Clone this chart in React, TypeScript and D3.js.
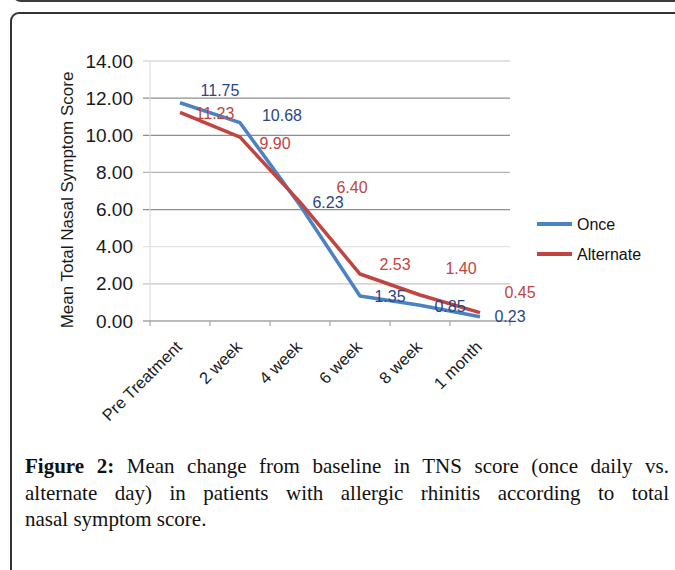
import * as d3 from 'd3';
import React, { useEffect, useRef } from 'react';

const categories = ['Pre Treatment', '2 week', '4 week', '6 week', '8 week', '1 month'];
const onceValues = [11.75, 10.68, 6.23, 1.35, 0.85, 0.23];
const alternateValues = [11.23, 9.9, 6.4, 2.53, 1.4, 0.45];
const yTicks = [0, 2, 4, 6, 8, 10, 12, 14];
const seriesNames = ['Once', 'Alternate'];

// label nudges (px) from each point, as placed in the original
const onceLabelShift = [[40, -12], [42, -7], [28, -3], [30, 1], [30, 1], [30, 0]];
const alternateLabelShift = [[35, 1], [35, 6], [52, -15], [35, -10], [41, -27], [40, -20]];

const captionLines = [
  'Mean change from baseline in TNS score (once daily vs.',
  'alternate day) in patients with allergic rhinitis according to total',
  'nasal symptom score.',
];

const gridTone: Record<number, string> = {
  14: '#dadada', 12: '#8e8e8e', 10: '#8e8e8e', 8: '#b4b4b4',
  6: '#8e8e8e', 4: '#e2e2e2', 2: '#c6c6c6',
};

const W = 675;
const H = 570;
const sans = '"Liberation Sans", Arial, sans-serif';
const serif = '"Liberation Serif", "Times New Roman", serif';

const App: React.FC = () => {
  const capRef = useRef<SVGGElement>(null);

  const x = d3.scaleBand<string>().domain(categories).range([150, 510]);
  const y = d3.scaleLinear().domain([0, 14]).range([321, 61]);
  const cx = (c: string) => (x(c) ?? 0) + x.bandwidth() / 2;

  const line = d3
    .line<number>()
    .x((_, i) => cx(categories[i]))
    .y((d) => y(d));

  const series = [
    { name: seriesNames[0], values: onceValues, shift: onceLabelShift, stroke: '#4a82c4', label: '#2b4584' },
    { name: seriesNames[1], values: alternateValues, shift: alternateLabelShift, stroke: '#c0443f', label: '#c0443f' },
  ];

  // justify the first two caption lines like the journal layout
  useEffect(() => {
    if (!capRef.current) return;
    d3.select(capRef.current)
      .selectAll<SVGTextElement, unknown>('text.justify')
      .each(function () {
        const el = this;
        el.setAttribute('word-spacing', '0');
        const natural = el.getComputedTextLength();
        const spaces = (el.textContent || '').split(' ').length - 1;
        if (spaces > 0) {
          el.setAttribute('word-spacing', String((644 - natural) / spaces));
        }
      });
  }, []);

  const bounds = d3.range(categories.length + 1).map((i) => 150 + i * x.bandwidth());

  return (
    <svg
      width={W}
      height={H}
      style={{ position: 'absolute', left: 0, top: 0, background: 'white' }}
    >
      {/* frames */}
      <rect x={13} y={-40} width={720} height={41} rx={8} fill="none" stroke="#3a3a3a" strokeWidth={2} />
      <rect x={11} y={13} width={720} height={700} rx={8} fill="none" stroke="#333" strokeWidth={2} />

      {/* grid */}
      {yTicks.map((t) => (
        <g key={t}>
          {t > 0 && (
            <line x1={143} x2={510} y1={y(t)} y2={y(t)} stroke={gridTone[t]} strokeWidth={1.3} />
          )}
          <text
            x={133}
            y={y(t)}
            textAnchor="end"
            dominantBaseline="central"
            fontFamily={sans}
            fontSize={19}
            fill="#1a1a1a"
          >
            {t.toFixed(2)}
          </text>
        </g>
      ))}
      <line x1={150} x2={150} y1={61} y2={321} stroke="#dcdcdc" strokeWidth={1.2} />
      <line x1={143} x2={510} y1={y(0)} y2={y(0)} stroke="#a4a4a4" strokeWidth={1.3} />
      {bounds.map((b) => (
        <line key={b} x1={b} x2={b} y1={321} y2={326} stroke="#a4a4a4" strokeWidth={1.2} />
      ))}

      {/* x labels */}
      {categories.map((c) => (
        <text
          key={c}
          transform={`translate(${cx(c) + 3},348) rotate(-45)`}
          textAnchor="end"
          fontFamily={sans}
          fontSize={16.5}
          fill="#1a1a1a"
        >
          {c}
        </text>
      ))}

      <text
        transform="translate(73,200) rotate(-90)"
        textAnchor="middle"
        fontFamily={sans}
        fontSize={17}
        fill="#1a1a1a"
      >
        Mean Total Nasal Symptom Score
      </text>

      {/* series */}
      {series.map((s) => (
        <path
          key={s.name}
          d={line(s.values) ?? ''}
          fill="none"
          stroke={s.stroke}
          strokeWidth={3.5}
          strokeLinejoin="round"
        />
      ))}
      {series.map((s) =>
        s.values.map((v, i) => (
          <text
            key={s.name + i}
            x={cx(categories[i]) + s.shift[i][0]}
            y={y(v) + s.shift[i][1]}
            textAnchor="middle"
            dominantBaseline="central"
            fontFamily={sans}
            fontSize={16}
            fill={s.label}
          >
            {v.toFixed(2)}
          </text>
        ))
      )}

      {/* legend */}
      {series.map((s, i) => (
        <g key={s.name} transform={`translate(537,${224 + i * 30})`}>
          <line x1={0} x2={35} y1={0} y2={0} stroke={s.stroke} strokeWidth={4} />
          <text x={40} y={0} dominantBaseline="central" fontFamily={sans} fontSize={16} fill="#111">
            {s.name}
          </text>
        </g>
      ))}

      {/* caption */}
      <g ref={capRef} fontFamily={serif} fontSize={21} fill="#111">
        <text className="justify" x={25} y={473}>
          <tspan fontWeight="bold">Figure 2:</tspan> {captionLines[0]}
        </text>
        <text className="justify" x={25} y={500}>
          {captionLines[1]}
        </text>
        <text x={25} y={526}>
          {captionLines[2]}
        </text>
      </g>
    </svg>
  );
};

export default App;
